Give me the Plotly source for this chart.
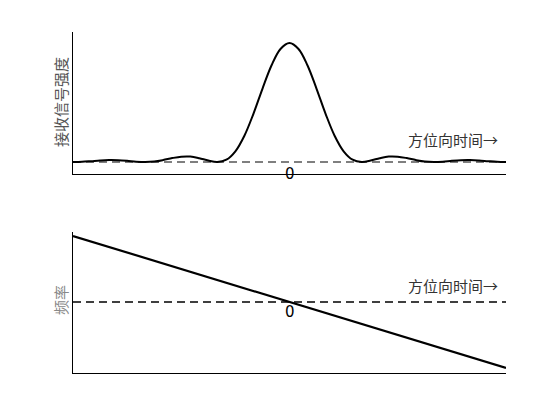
import plotly.graph_objects as go
from plotly.subplots import make_subplots

# Top panel: received signal strength vs azimuth time (in null-width units)
azimuth = [-3.0, -2.875, -2.75, -2.625, -2.5, -2.375, -2.25, -2.125, -2.0,
           -1.875, -1.75, -1.625, -1.5, -1.375, -1.25, -1.125, -1.0,
           -0.875, -0.75, -0.625, -0.5, -0.375, -0.25, -0.125, 0.0,
           0.125, 0.25, 0.375, 0.5, 0.625, 0.75, 0.875, 1.0,
           1.125, 1.25, 1.375, 1.5, 1.625, 1.75, 1.875, 2.0,
           2.125, 2.25, 2.375, 2.5, 2.625, 2.75, 2.875, 3.0]
strength = [0.0, 0.002, 0.007, 0.0125, 0.016, 0.015, 0.010, 0.003, 0.0,
            0.004, 0.0165, 0.033, 0.045, 0.046, 0.032, 0.012, 0.0,
            0.019, 0.090, 0.221, 0.405, 0.615, 0.811, 0.950, 1.0,
            0.950, 0.811, 0.615, 0.405, 0.221, 0.090, 0.019, 0.0,
            0.012, 0.032, 0.046, 0.045, 0.033, 0.0165, 0.004, 0.0,
            0.003, 0.010, 0.015, 0.016, 0.0125, 0.007, 0.002, 0.0]

# Bottom panel: frequency vs azimuth time (linear sweep)
freq_t = [-3.0, 3.0]
freq = [1.0, -1.0]

zero_x = [-3.0, 3.0]
zero_y = [0.0, 0.0]

top_ylabel = "接收信号强度"
bot_ylabel = "频率"
xlabel = "方位向时间→"
zero_label = "0"

fig = make_subplots(rows=2, cols=1, vertical_spacing=0.17)

fig.add_trace(go.Scatter(x=zero_x, y=zero_y, mode="lines",
                         line=dict(color="#555555", width=1.5, dash="8px,5px")),
              row=1, col=1)
fig.add_trace(go.Scatter(x=azimuth, y=strength, mode="lines", line_shape="spline",
                         line=dict(color="black", width=2)), row=1, col=1)

fig.add_trace(go.Scatter(x=zero_x, y=zero_y, mode="lines",
                         line=dict(color="black", width=1.5, dash="8px,5px")),
              row=2, col=1)
fig.add_trace(go.Scatter(x=freq_t, y=freq, mode="lines",
                         line=dict(color="black", width=2.2)), row=2, col=1)

axis_common = dict(showline=True, linecolor="black", linewidth=1, showgrid=False,
                   zeroline=False, showticklabels=False, ticks="")
fig.update_xaxes(range=[-3, 3], **axis_common)
fig.update_yaxes(**axis_common)

# page has an 8px body margin; plot area spans page x 73..506, y 32..373
W, H = 552, 412
ML, MR, MT, MB = 65, 54, 24, 47
PW = W - ML - MR
PH = H - MT - MB

fig.update_layout(
    width=W, height=H, showlegend=False,
    plot_bgcolor="white", paper_bgcolor="white",
    margin=dict(l=ML, r=MR, t=MT, b=MB),
    font=dict(family="Noto Sans CJK SC", color="#444444"),
    xaxis=dict(domain=[0, 1]),
    yaxis=dict(domain=[0.5836, 1.0], range=[-0.1008, 1.0924]),
    xaxis2=dict(domain=[0, 1]),
    yaxis2=dict(domain=[0.0, 0.4135], range=[-1.0758, 1.0606]),
)


def px_x(p):
    return (p - 73) / PW


def px_y(p):
    return (373 - p) / PH


annotations = [
    dict(x=0, y=-0.1008, xref="x", yref="y", text=zero_label, showarrow=False,
         font=dict(family="DejaVu Sans", size=15, color="black"),
         xanchor="center", yanchor="middle"),
    dict(x=0, y=-0.15, xref="x2", yref="y2", text=zero_label, showarrow=False,
         font=dict(family="DejaVu Sans", size=15, color="black"),
         xanchor="center", yanchor="middle"),
    dict(x=2.92, y=0.19, xref="x", yref="y", text=xlabel, showarrow=False,
         xanchor="right", yanchor="middle", font=dict(size=15, color="#333333")),
    dict(x=2.92, y=0.25, xref="x2", yref="y2", text=xlabel, showarrow=False,
         xanchor="right", yanchor="middle", font=dict(size=15, color="#333333")),
    dict(x=px_x(60), y=px_y(102), xref="paper", yref="paper", text=top_ylabel,
         showarrow=False, textangle=-90, xanchor="center", yanchor="middle",
         font=dict(size=15, color="#555555")),
    dict(x=px_x(60), y=px_y(300), xref="paper", yref="paper", text=bot_ylabel,
         showarrow=False, textangle=-90, xanchor="center", yanchor="middle",
         font=dict(size=15, color="#888888")),
]
fig.update_layout(annotations=annotations)

fig.write_html("out.html")
